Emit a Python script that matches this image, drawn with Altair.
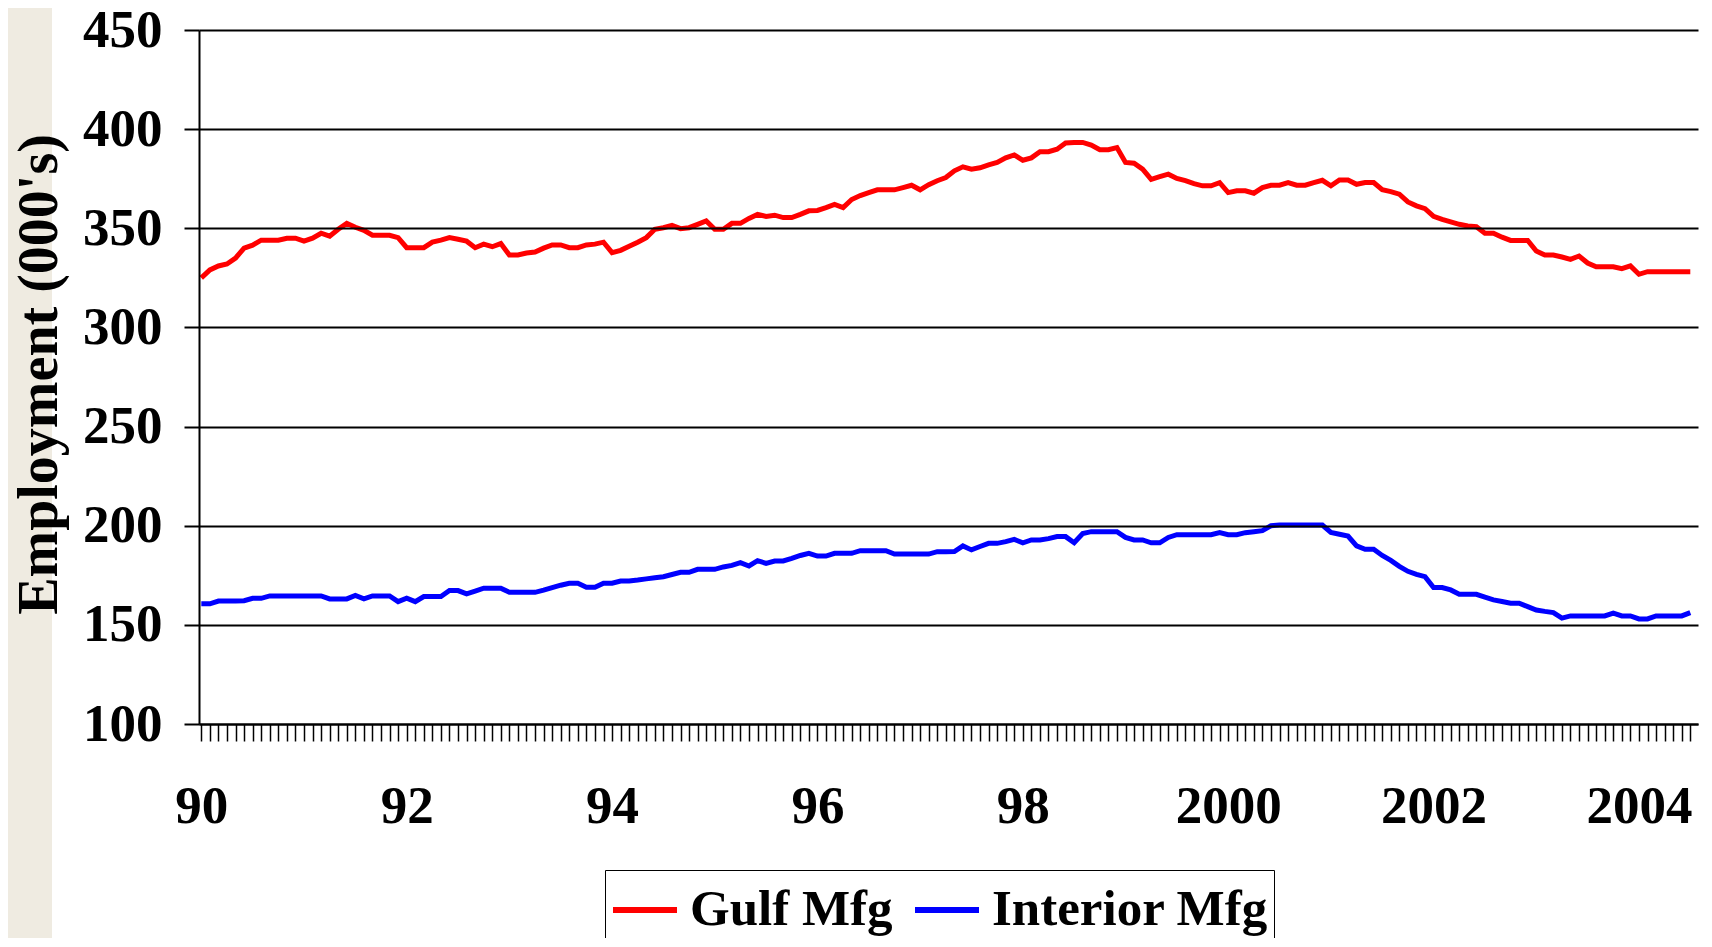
import altair as alt
import pandas as pd

series_names = ["Gulf Mfg", "Interior Mfg"]
series_colors = ["#FF0000", "#0000FF"]

gulf = [325, 329, 331, 332, 335, 340, 341.5, 344, 344, 344, 345, 345, 343.5, 345, 347.5, 346, 349.5, 352.5, 350.5, 349,
        346.5, 346.5, 346.5, 345.3, 340.2, 340.2, 340.2, 343, 344, 345.3, 344.5, 343.5, 340.2, 342, 340.7, 342.3, 336.5, 336.5, 337.5, 338,
        340, 341.6, 341.6, 340.2, 340.2, 341.6, 342, 343, 337.7, 338.9, 341, 343, 345.3, 349.5, 350.3, 351.5, 349.8, 350.3, 352, 353.7,
        349.5, 349.5, 352.5, 352.5, 355, 357, 356, 356.6, 355.4, 355.4, 357, 358.8, 359, 360.4, 362, 360.4, 364.5, 366.5, 368, 369.4,
        369.4, 369.4, 370.5, 371.7, 369.4, 372, 374, 375.6, 379, 381, 379.8, 380.5, 382, 383.2, 385.5, 387, 384.3, 385.5, 388.6, 388.6,
        389.9, 393, 393.3, 393.3, 392, 389.6, 389.6, 390.7, 383.2, 382.8, 379.8, 374.7, 376, 377.3, 375.1, 374, 372.5, 371.4, 371.4, 373,
        368, 368.9, 368.9, 367.7, 370.5, 371.7, 371.7, 373, 371.7, 371.7, 373, 374.2, 371.4, 374.4, 374.4, 372.2, 373.1, 373.1, 369.5, 368.5,
        367.2, 363.3, 361.3, 359.9, 356, 354.5, 353.2, 352, 351.2, 350.8, 347.5, 347.5, 345.5, 343.9, 343.9, 343.9, 338.5, 336.5, 336.5, 335.5,
        334.3, 336, 332.5, 330.6, 330.6, 330.6, 329.6, 331, 326.8, 328.1, 328.1, 328.1, 328.1, 328.1, 328.1]

interior = [160.6, 160.6, 162, 162, 162, 162.2, 163.4, 163.4, 164.6, 164.6, 164.6, 164.6, 164.6, 164.6, 164.6, 163.1, 163.1, 163.1, 164.8, 163.1,
            164.6, 164.6, 164.6, 161.7, 163.4, 161.7, 164.3, 164.3, 164.3, 167.3, 167.3, 165.6, 167, 168.5, 168.5, 168.5, 166.4, 166.4, 166.4, 166.4,
            167.5, 168.8, 170, 171, 171, 169, 169, 171, 171, 172.1, 172.1, 172.6, 173.2, 173.8, 174.3, 175.4, 176.5, 176.5, 178, 178,
            178, 179.2, 180, 181.4, 179.7, 182.4, 181, 182.2, 182.2, 183.5, 185, 186.1, 184.7, 184.7, 186.1, 186.1, 186.1, 187.4, 187.4, 187.4,
            187.4, 185.7, 185.7, 185.7, 185.7, 185.7, 186.9, 186.9, 187, 189.8, 187.8, 189.5, 191.1, 191.1, 192, 193.1, 191.4, 192.8, 192.8, 193.5,
            194.5, 194.5, 191.4, 196.1, 197, 197, 197, 197, 194.1, 192.8, 192.8, 191.4, 191.4, 194.1, 195.5, 195.5, 195.5, 195.5, 195.5, 196.6,
            195.5, 195.5, 196.5, 197, 197.5, 200, 200.3, 200.3, 200.3, 200.3, 200.3, 200.3, 196.6, 195.7, 194.8, 189.8, 188.1, 188.1, 185, 182.5,
            179.5, 177, 175.5, 174.3, 168.8, 168.8, 167.6, 165.4, 165.4, 165.4, 164, 162.6, 161.8, 160.9, 160.9, 159.2, 157.5, 156.8, 156.2, 153.4,
            154.5, 154.5, 154.5, 154.5, 154.5, 155.9, 154.5, 154.5, 153, 153, 154.5, 154.5, 154.5, 154.5, 156.2]

# x tick labels (every 24 months starting Jan 1990)
x_label_months = [0, 24, 48, 72, 96, 120, 144, 168]
x_labels = ["90", "92", "94", "96", "98", "2000", "2002", "2004"]
y_ticks = [100, 150, 200, 250, 300, 350, 400, 450]

rows = []
for name, vals in zip(series_names, [gulf, interior]):
    for i, v in enumerate(vals):
        rows.append({"month": i, "value": v, "series": name})
df = pd.DataFrame(rows)

label_expr = "''"
for m, lab in reversed(list(zip(x_label_months, x_labels))):
    label_expr = f"datum.value === {m} ? '{lab}' : ({label_expr})"

FONT = "Liberation Serif"

band = alt.Chart(pd.DataFrame({"a": [0]})).mark_rect(color="#EFEBE1").encode(
    x=alt.value(-191), x2=alt.value(-147), y=alt.value(-22), y2=alt.value(908)
)

lines = alt.Chart(df).mark_line(strokeWidth=5).encode(
    x=alt.X("month:Q",
            scale=alt.Scale(domain=[-0.27, 174.9], nice=False, zero=False),
            axis=alt.Axis(values=list(range(0, 175)), labelExpr=label_expr, labelOverlap=False,
                          labelFlush=False, labelBound=False, grid=False, title=None,
                          tickSize=17, tickWidth=1.5, tickColor="black",
                          domainColor="black", domainWidth=2,
                          labelFont=FONT, labelFontSize=53, labelFontWeight="bold",
                          labelColor="black", labelPadding=39, zindex=1)),
    y=alt.Y("value:Q",
            scale=alt.Scale(domain=[100, 450], nice=False, zero=False),
            axis=alt.Axis(values=y_ticks, grid=True, gridColor="black", gridWidth=2,
                          tickSize=15, tickWidth=2, tickColor="black",
                          domainColor="black", domainWidth=2,
                          labelFont=FONT, labelFontSize=53, labelFontWeight="bold",
                          labelColor="black", labelPadding=22,
                          title="Employment (000's)", titleFont=FONT, titleFontSize=56,
                          titleFontWeight="bold", titleColor="black", titleAngle=270,
                          titleX=-160, titleY=344, titleAlign="center", titleBaseline="middle",
                          zindex=1)),
    color=alt.Color("series:N",
                    scale=alt.Scale(domain=series_names, range=series_colors),
                    legend=alt.Legend(orient="none", legendX=406, legendY=840,
                                      direction="horizontal", columns=2, title=None,
                                      symbolType="stroke", symbolSize=4096, symbolStrokeWidth=6,
                                      labelFont=FONT, labelFontSize=51, labelFontWeight="bold",
                                      labelColor="black", labelOffset=10, labelLimit=0,
                                      columnPadding=10, padding=5,
                                      strokeColor="black", fillColor="white")),
    order="month:Q",
)

chart = alt.layer(band, lines).properties(
    width=1499, height=694,
    autosize=alt.AutoSizeParams(type="none"),
    padding={"left": 191, "top": 22, "right": 6, "bottom": 214},
    background="white",
).configure_view(stroke=None)

chart.save("out.html", embed_options={"renderer": "svg", "actions": False})
